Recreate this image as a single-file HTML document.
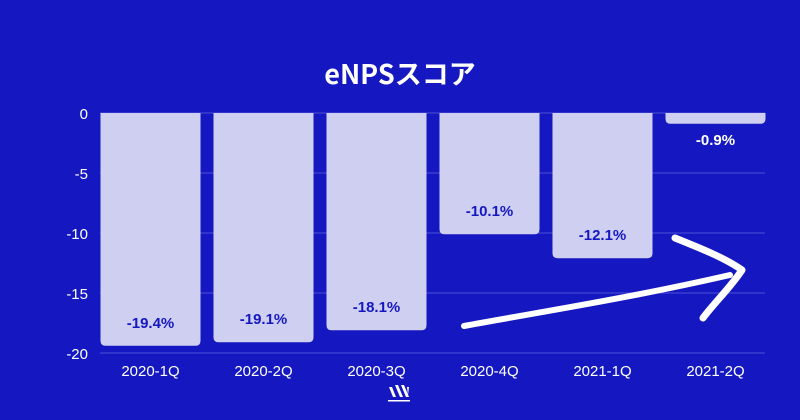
<!DOCTYPE html>
<html><head><meta charset="utf-8"><style>
body{margin:0;background:#1518c0;}
svg{display:block;font-family:"Liberation Sans","Noto Sans CJK JP",sans-serif;}
</style></head><body>
<svg width="800" height="420">
<rect width="800" height="420" fill="#1518c0"/>
<text x="400" y="84" text-anchor="middle" fill="#fff" font-size="27" font-weight="bold" font-family="'Noto Sans CJK JP',sans-serif">eNPSスコア</text>
<g id="grid"></g><g id="bars"></g><g id="labels"></g>
<g fill="none" stroke="#fff" stroke-linecap="round" stroke-linejoin="round">
<path d="M464,326 C540,312 630,298 730,275" stroke-width="6"/>
<path d="M675,238 C700,248 725,258 742,270 C730,288 715,302 703,318" stroke-width="7"/>
</g>
<g fill="#fff">
<path d="M389,387 l3,0 l4,10 l-3,0 z M395,385 l3,0 l5,12 l-3,0 z M401,385 l3,0 l5,12 l-3,0 z M407,387 l2,0 l-1,8 z"/>
<rect x="388" y="400" width="22" height="1.5"/>
</g>
</svg>
<script>
const categories=["2020-1Q","2020-2Q","2020-3Q","2020-4Q","2021-1Q","2021-2Q"];
const values=[-19.4,-19.1,-18.1,-10.1,-12.1,-0.9];
const ticks=[0,-5,-10,-15,-20];
const ns="http://www.w3.org/2000/svg";
const y=v=>113+(-v)*12;
const step=113, x0=93;
const bx=i=>x0+i*step+(step-100)/2+1;
function mk(t,a,p){const e=document.createElementNS(ns,t);for(const k in a)e.setAttribute(k,a[k]);p.appendChild(e);return e;}
const g=document.getElementById('grid'),b=document.getElementById('bars'),l=document.getElementById('labels');
ticks.forEach(t=>{
 const ln=mk('line',{x1:100,x2:765,y1:y(t),y2:y(t),stroke:'#4a4fd6','stroke-width':1},g);
 
 
 const tx=mk('text',{x:88,y:y(t)+6,'text-anchor':'end',fill:'#fff','font-size':15},g);
 tx.textContent=t;
 
 
});
values.forEach((v,i)=>{
 const x=bx(i),top=y(0),bot=y(v),r=5;
 const p=mk('path',{d:`M${x},${top} H${x+100} V${bot-r} Q${x+100},${bot} ${x+100-r},${bot} H${x+r} Q${x},${bot} ${x},${bot-r} Z`,fill:'#cfd0f1'},b);
 
 
 const h=bot-top;
 const ly=h<30?bot+21:bot-18;
 const t=mk('text',{x:x+50,y:ly,'text-anchor':'middle',fill:h<30?'#fff':'#1518c0','font-size':15,'font-weight':'bold'},l);
 t.textContent=v.toFixed(1)+'%';
 
 
 const c=mk('text',{x:x+50,y:376,'text-anchor':'middle',fill:'#fff','font-size':15},l);
 c.textContent=categories[i];
 
 
});
</script>
</body></html>
